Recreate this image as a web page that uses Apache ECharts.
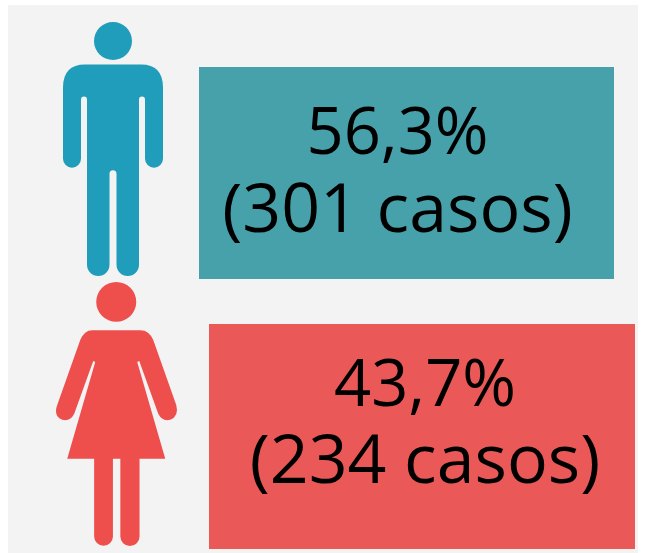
<!DOCTYPE html>
<html>
<head>
<meta charset="utf-8">
<style>html,body{margin:0;padding:0;background:#fff}#main{width:646px;height:553px}</style>
<script src="https://cdn.jsdelivr.net/npm/echarts@6/dist/echarts.min.js"></script>
</head>
<body>
<div id="main"></div>
<script>
var categories = ['Hombres', 'Mujeres'];
var percents = [56.3, 43.7];
var cases = [301, 234];

var iconColors = ['#1f9dba', '#ee4f4d'];
var boxColors = ['#47a1aa', '#ea5858'];

var iconPaths = [
    // hombre
    'M94,41.5 a19,19 0 1 0 38,0 a19,19 0 1 0 -38,0 Z ' +
    'M85,65 H141 Q163,65 163,88 V159 a9,9 0 0 1 -18,0 V100 a3,3 0 0 0 -6,0 V265 a11.25,11.25 0 0 1 -22.5,0 ' +
    'V174 a3.5,3.5 0 0 0 -7,0 V265 a11.25,11.25 0 0 1 -22.5,0 V100 a3,3 0 0 0 -6,0 V159 a9,9 0 0 1 -18,0 V88 Q63,65 85,65 Z',
    // mujer
    'M96,301.7 a20,20 0 1 0 40,0 a20,20 0 1 0 -40,0 Z ' +
    'M92,330 H140 Q149,330 153,340 L176,405 Q179,416 170,420 Q162,422 158,414 L139,361 L137,362 L165,459 H139.3 V537 ' +
    'a9.6,9.6 0 0 1 -19.2,0 V459 H112.7 V537 a9.4,9.4 0 0 1 -18.8,0 V459 H67 L95,362 L93,361 L74,414 ' +
    'Q70,422 62,420 Q53,416 57,405 L80,340 Q84,330 92,330 Z'
];

var iconGrids = [
    {left: 63, top: 22, width: 100, height: 254},
    {left: 56, top: 282, width: 121, height: 264}
];
var boxGrids = [
    {left: 199, top: 67, width: 415, height: 212},
    {left: 209, top: 324, width: 426, height: 225}
];
var labelOffsets = [[-9, 1], [3, -11]];

var grid = [], xAxis = [], yAxis = [], series = [];

categories.forEach(function (name, i) {
    var iconIdx = grid.length;
    grid.push(iconGrids[i], boxGrids[i]);
    [iconIdx, iconIdx + 1].forEach(function (g) {
        xAxis.push({type: 'category', gridIndex: g, data: [name], show: false});
        yAxis.push({type: 'value', gridIndex: g, min: 0, max: percents[i], show: false});
    });
    series.push({
        name: name,
        type: 'pictorialBar',
        xAxisIndex: iconIdx,
        yAxisIndex: iconIdx,
        barWidth: '100%',
        symbol: 'path://' + iconPaths[i],
        symbolSize: ['100%', '100%'],
        symbolPosition: 'start',
        itemStyle: {color: iconColors[i]},
        silent: true,
        data: [percents[i]]
    });
    series.push({
        name: name,
        type: 'bar',
        xAxisIndex: iconIdx + 1,
        yAxisIndex: iconIdx + 1,
        barWidth: '100%',
        itemStyle: {color: boxColors[i]},
        silent: true,
        label: {
            show: true,
            position: 'inside',
            offset: labelOffsets[i],
            color: '#000',
            fontFamily: 'Open Sans',
            formatter: '{a|' + percents[i].toFixed(1).replace('.', ',') + '%}\n{b|(' + cases[i] + ' casos)}',
            rich: {
                a: {fontFamily: 'Open Sans', fontSize: 65, lineHeight: 77, color: '#000'},
                b: {fontFamily: 'Open Sans', fontSize: 68, lineHeight: 77, color: '#000'}
            }
        },
        data: [percents[i]]
    });
});

var option = {
    animation: false,
    backgroundColor: '#fff',
    graphic: [{
        type: 'rect',
        z: -1,
        shape: {x: 8, y: 5, width: 630, height: 548},
        style: {fill: '#f3f3f3'}
    }],
    grid: grid,
    xAxis: xAxis,
    yAxis: yAxis,
    series: series
};

echarts.init(document.getElementById('main')).setOption(option);
</script>
</body>
</html>
